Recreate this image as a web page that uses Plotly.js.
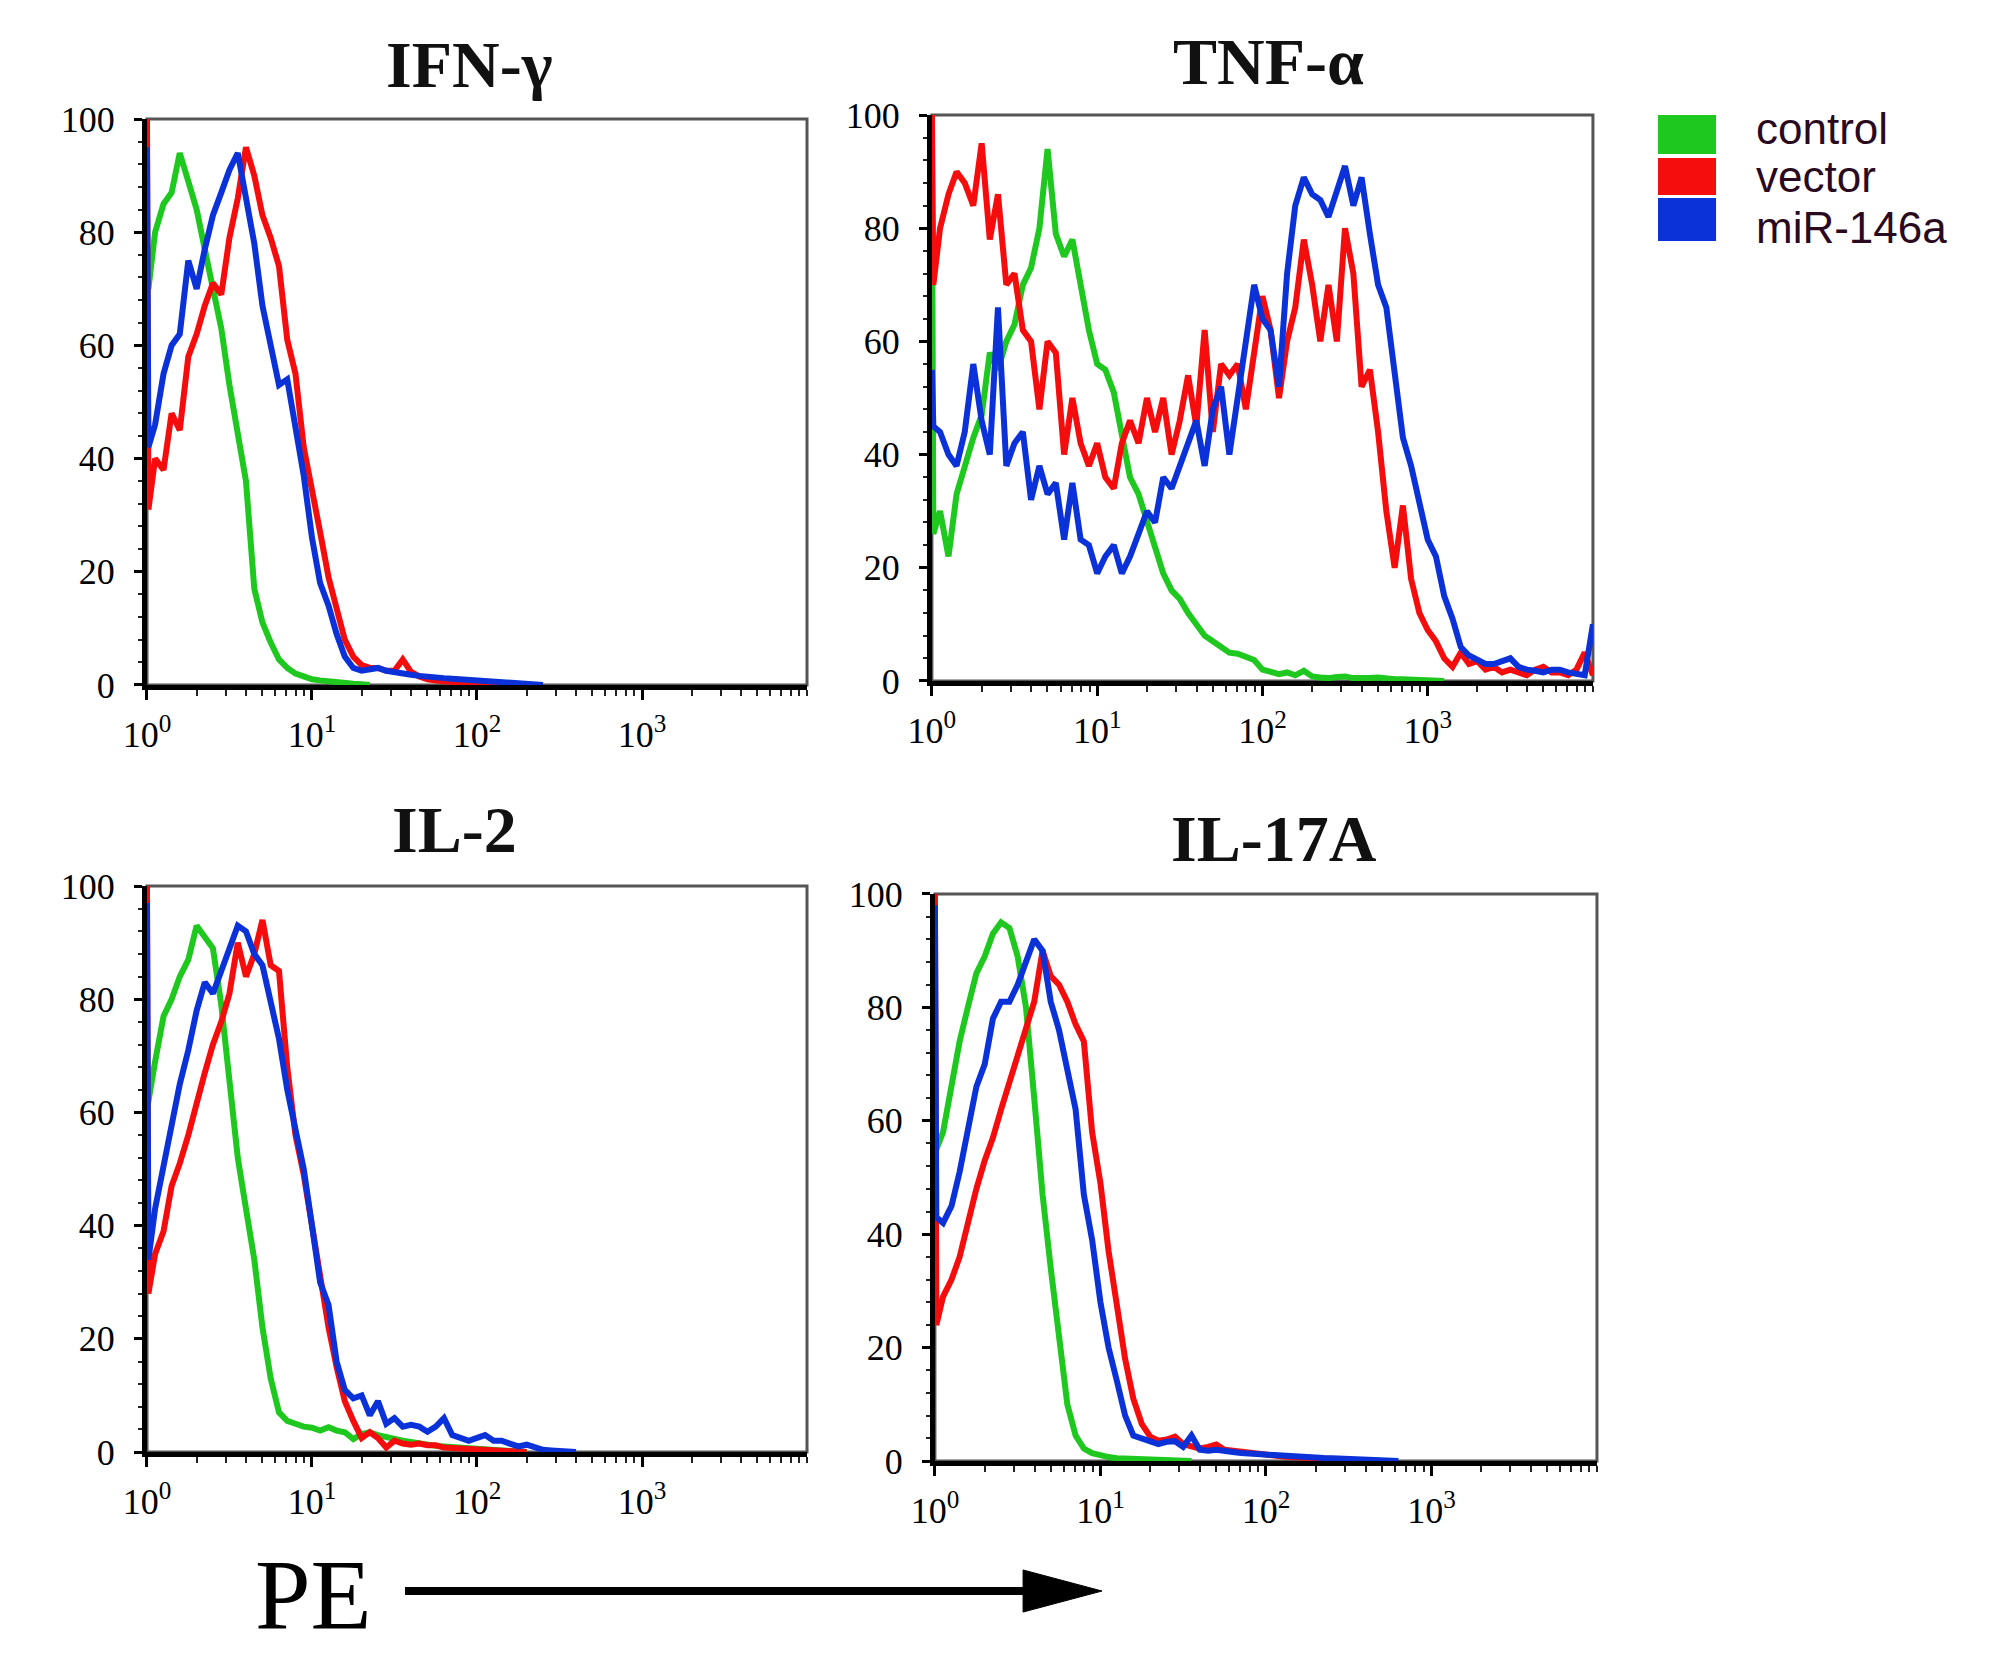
<!DOCTYPE html>
<html>
<head>
<meta charset="utf-8">
<script src="https://cdn.plot.ly/plotly-3.0.1.min.js"></script>
<style>
  html, body { margin: 0; padding: 0; background: #fff; }
  #chart { width: 2008px; height: 1658px; }
</style>
</head>
<body>
<div id="chart"></div>
<script>
// PE channel positions (log scale), first point is the off-scale spike at 10^0
var pe = [1, 1.02, 1.12, 1.26, 1.41, 1.58, 1.78, 2.00, 2.24, 2.51, 2.82, 3.16, 3.55, 3.98, 4.47, 5.01, 5.62, 6.31, 7.08, 7.94, 8.91,
  10, 11.2, 12.6, 14.1, 15.8, 17.8, 20.0, 22.4, 25.1, 28.2, 31.6, 35.5, 39.8, 44.7, 50.1, 56.2, 63.1, 70.8, 79.4, 89.1,
  100, 112, 126, 141, 158, 178, 200, 224, 251, 282, 316, 355, 398, 447, 501, 562, 631, 708, 794, 891,
  1000, 1122, 1259, 1413, 1585, 1778, 1995, 2239, 2512, 2818, 3162, 3548, 3981, 4467, 5012, 5623, 6310, 7079, 7943, 8913, 10000];

var seriesNames = ["control", "vector", "miR-146a"];
var seriesColors = ["#1ec81e", "#f50d0d", "#0a32d8"];
var panelTitles = ["IFN-γ", "TNF-α", "IL-2", "IL-17A"];
var xTickVals = [1, 10, 100, 1000];
var xTickText = ["10<sup>0</sup>", "10<sup>1</sup>", "10<sup>2</sup>", "10<sup>3</sup>"];
var yTickVals = [0, 20, 40, 60, 80, 100];

var serif = "Times New Roman, Liberation Serif, serif";

// IFN-gamma
var ifnControl = [75, 70, 80, 85, 87, 94, 89, 84, 77, 70, 63, 53, 44, 36, 17, 11, 7.5, 4.5, 3, 2, 1.5,
  1, 0.8, 0.6, 0.5, 0.3, 0.2, 0.1, 0];
var ifnVector = [100, 31, 40, 38, 48, 45, 58, 62, 67, 71, 69, 79, 86, 95, 90, 83, 79, 74, 61, 55, 42,
  35, 27, 19, 13, 8, 5, 3.5, 3, 3, 2.5, 2.5, 4.5, 2.3, 1.5, 1, 0.8, 0.6, 0.5, 0.4, 0.35,
  0.3, 0.25, 0.2, 0.1, 0];
var ifnMir = [95, 42, 46, 55, 60, 62, 75, 70, 77, 83, 87, 91, 94, 86, 78, 67, 60, 53, 54, 46, 37,
  26, 18, 14, 9, 5, 3, 2.5, 2.8, 3, 2.5, 2.2, 2, 1.8, 1.6, 1.4, 1.3, 1.2, 1.1, 1, 0.9,
  0.8, 0.7, 0.6, 0.5, 0.4, 0.3, 0.2, 0.1, 0];

// TNF-alpha
var tnfControl = [95, 26, 30, 22, 33, 38, 43, 47, 58, 55, 60, 63, 70, 73, 80, 94, 79, 75, 78, 70, 62,
  56, 55, 51, 44, 36, 33, 28, 23, 19, 16, 14.5, 12, 10, 8, 7, 6, 5, 4.8, 4.3, 3.7,
  2, 1.5, 1.2, 1.5, 1, 1.8, 0.8, 0.6, 0.5, 0.7, 0.8, 0.5, 0.4, 0.5, 0.6, 0.4, 0.3, 0.3, 0.2, 0.2,
  0.2, 0.1, 0];
var tnfVector = [100, 70, 80, 86, 90, 88, 84, 95, 78, 86, 70, 72, 62, 60, 48, 60, 58, 40, 50, 42, 38,
  42, 36, 34, 42, 46, 42, 50, 44, 50, 40, 46, 54, 45, 62, 44, 56, 54, 56, 48, 58,
  68, 62, 50, 60, 66, 78, 70, 60, 70, 60, 80, 72, 52, 55, 44, 30, 20, 31, 18, 12,
  9, 7, 4, 2.5, 5, 3, 3.5, 2, 2.5, 1.5, 2, 1.5, 1, 2, 2.5, 1.5, 1.5, 1, 2, 5, 1];
var tnfMir = [55, 45, 44, 40, 38, 44, 56, 46, 40, 66, 38, 42, 44, 32, 38, 33, 35, 25, 35, 25, 24,
  19, 22, 24, 19, 22, 26, 30, 28, 36, 34, 38, 42, 46, 38, 48, 52, 40, 50, 60, 70,
  64, 62, 52, 72, 84, 89, 86, 85, 82, 87, 91, 84, 89, 79, 70, 66, 55, 43, 38, 32,
  25, 22, 15, 11, 6, 4.5, 3.7, 3, 3, 3.5, 4, 2.5, 2, 1.8, 1.5, 2, 2, 1.5, 1.2, 1, 10];

// IL-2
var il2Control = [62, 62, 69, 77, 80, 84, 87, 93, 91, 89, 79, 65, 52, 43, 34, 22, 13, 7, 5.5, 5, 4.5,
  4.3, 3.8, 4.4, 3.8, 3.5, 2.3, 3.2, 3.5, 3, 2.6, 2.3, 2, 1.8, 1.5, 1.3, 1.1, 1, 0.9, 0.7, 0.6,
  0.5, 0.45, 0.4, 0.3, 0.2, 0.1, 0];
var il2Vector = [100, 28, 35, 39, 47, 51, 56, 62, 67, 72, 76, 81, 90, 84, 88, 94, 86, 85, 68, 56, 49,
  40, 31, 22, 15, 9, 5.5, 2.5, 3.5, 2.5, 0.8, 2, 1.5, 1.3, 1.5, 1.2, 1.2, 0.8, 0.7, 0.6, 0.5,
  0.4, 0.35, 0.3, 0.25, 0.2, 0.1, 0];
var il2Mir = [97, 34, 43, 51, 58, 65, 71, 78, 83, 81, 85, 89, 93, 92, 88, 86, 80, 73, 64, 57, 50,
  40, 30, 26, 16, 11, 9.5, 10, 6.5, 9, 5, 6, 4.5, 4.8, 4.5, 3.6, 4.5, 6, 3, 2.5, 2,
  2.5, 3, 2, 2, 1.5, 1, 1.3, 0.8, 0.4, 0.3, 0.2, 0.1, 0];

// IL-17A
var il17Control = [55, 55, 58, 67, 74, 80, 86, 89, 93, 95, 94, 89, 80, 64, 47, 34, 21, 10, 4.5, 2.2, 1.4,
  1, 0.7, 0.5, 0.45, 0.4, 0.35, 0.3, 0.25, 0.2, 0.15, 0.1, 0];
var il17Vector = [100, 24, 29, 32, 36, 42, 48, 53, 57, 62, 67, 72, 77, 81, 90, 85.5, 84, 81, 77, 74, 58,
  49, 37, 27, 18, 11, 6.5, 4.3, 3.6, 3.8, 4.3, 3, 2.6, 2.2, 2.5, 2.9, 2, 1.8, 1.6, 1.4, 1.2,
  1, 0.9, 0.8, 0.7, 0.6, 0.5, 0.4, 0.35, 0.3, 0.25, 0.2, 0.15, 0.1, 0];
var il17Mir = [98, 43, 42, 45, 51, 58, 66, 70, 78, 81, 81, 84, 88, 92, 90, 81, 76, 69, 62, 47, 39,
  28, 20, 14, 8, 4.5, 4, 3.6, 3, 3.4, 3.5, 2.5, 4.5, 2, 1.8, 2, 1.9, 1.6, 1.4, 1.3, 1.1,
  1, 0.9, 0.8, 0.75, 0.7, 0.65, 0.6, 0.55, 0.5, 0.45, 0.4, 0.35, 0.3, 0.25, 0.2, 0.1, 0];

var panels = [
  [ifnControl, ifnVector, ifnMir],
  [tnfControl, tnfVector, tnfMir],
  [il2Control, il2Vector, il2Mir],
  [il17Control, il17Vector, il17Mir],
];

// plot areas in paper fractions [x0, x1, y0, y1]
var domains = [
  [0.0732, 0.4019, 0.5869, 0.9282],
  [0.4641, 0.7933, 0.5893, 0.9306],
  [0.0732, 0.4019, 0.1242, 0.4656],
  [0.4656, 0.7953, 0.1188, 0.4608],
];
var titlePos = [[0.234, 0.961], [0.6315, 0.963], [0.2265, 0.4994], [0.6345, 0.494]];

function xAxis(d, n) {
  return {
    type: "log", range: [0, 4], domain: [d[0], d[1]], anchor: "y" + n,
    tickvals: xTickVals, ticktext: xTickText,
    ticks: "outside", ticklen: 10, tickwidth: 3, tickcolor: "#000",
    ticklabelstandoff: 4,
    minor: { ticks: "outside", ticklen: 6, tickwidth: 2, tickcolor: "#222", dtick: "D1", showgrid: false },
    showline: true, linecolor: "#000", linewidth: 5,
    showgrid: false, zeroline: false, fixedrange: true,
    tickfont: { family: serif, size: 36, color: "#000" },
  };
}

function yAxis(d, n) {
  return {
    range: [0, 100], domain: [d[2], d[3]], anchor: "x" + n,
    tickvals: yTickVals,
    ticks: "outside", ticklen: 8, tickwidth: 3, tickcolor: "#000",
    ticklabelstandoff: 12,
    minor: { ticks: "outside", ticklen: 4, tickwidth: 2, tickcolor: "#222", dtick: 4, showgrid: false },
    showline: true, linecolor: "#000", linewidth: 5,
    showgrid: false, zeroline: false, fixedrange: true,
    tickfont: { family: serif, size: 36, color: "#000" },
  };
}

window.onload = () => {
  var data = [];
  var layout = {
    width: 2008, height: 1658,
    margin: { l: 0, r: 0, t: 0, b: 0 },
    paper_bgcolor: "#fff", plot_bgcolor: "#fff",
    showlegend: false,
    shapes: [], annotations: [],
  };

  panels.forEach((series, p) => {
    var n = p + 1;
    var sfx = n == 1 ? "" : String(n);
    series.forEach((ys, s) => {
      data.push({
        x: pe.slice(0, ys.length), y: ys,
        xaxis: "x" + sfx, yaxis: "y" + sfx,
        type: "scatter", mode: "lines", name: seriesNames[s],
        line: { color: seriesColors[s], width: 6 },
        hoverinfo: "skip",
      });
    });
    layout["xaxis" + sfx] = xAxis(domains[p], sfx);
    layout["yaxis" + sfx] = yAxis(domains[p], sfx);
    // thin grey frame
    layout.shapes.push({
      type: "rect", xref: "x" + sfx + " domain", yref: "y" + sfx + " domain",
      x0: 0, x1: 1, y0: 0, y1: 1, layer: "below",
      line: { color: "#555", width: 3 },
    });
    layout.annotations.push({
      text: panelTitles[p], xref: "paper", yref: "paper",
      x: titlePos[p][0], y: titlePos[p][1], showarrow: false,
      xanchor: "center", yanchor: "middle",
      font: { family: serif, size: 66, weight: "bold", color: "#111" },
    });
  });

  // legend swatches and labels
  var legendY = [[0.9306, 0.9071, 0.9225], [0.9047, 0.8824, 0.8935], [0.8806, 0.8546, 0.8625]];
  seriesNames.forEach((name, s) => {
    layout.shapes.push({
      type: "rect", xref: "paper", yref: "paper",
      x0: 0.8257, x1: 0.8546, y0: legendY[s][1], y1: legendY[s][0],
      fillcolor: seriesColors[s], line: { width: 0 },
    });
    layout.annotations.push({
      text: name, xref: "paper", yref: "paper", x: 0.8735, y: legendY[s][2],
      xanchor: "left", yanchor: "middle", showarrow: false,
      font: { family: "Liberation Sans", size: 44, color: "#2a0a1e" },
    });
  });

  // PE arrow
  layout.shapes.push({
    type: "line", xref: "paper", yref: "paper",
    x0: 0.2017, x1: 0.513, y0: 0.0404, y1: 0.0404,
    line: { color: "#000", width: 8 },
  });
  layout.shapes.push({
    type: "path", xref: "paper", yref: "paper",
    path: "M 0.5095 0.0531 L 0.5488 0.0404 L 0.5095 0.0277 Z",
    fillcolor: "#000", line: { color: "#000", width: 1 },
  });
  layout.annotations.push({
    text: "PE", xref: "paper", yref: "paper", x: 0.156, y: 0.0386,
    showarrow: false, xanchor: "center", yanchor: "middle",
    font: { family: serif, size: 100, color: "#000" },
  });

  Plotly.newPlot("chart", data, layout, { displayModeBar: false, staticPlot: true });
};
</script>
</body>
</html>
